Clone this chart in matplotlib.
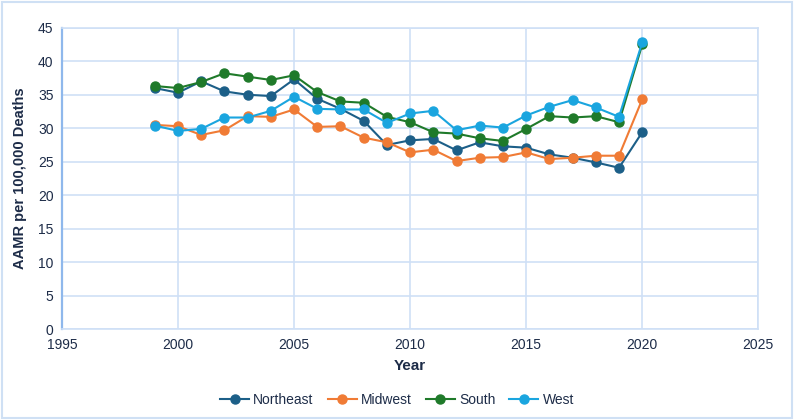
import matplotlib
matplotlib.use("Agg")
import matplotlib.pyplot as plt
from matplotlib.patches import Rectangle

years = list(range(1999, 2021))
northeast = [36.0, 35.3, 37.0, 35.5, 35.0, 34.8, 37.3, 34.4, 32.9, 31.1, 27.5, 28.2, 28.4, 26.7, 27.9, 27.3, 27.1, 26.1, 25.6, 24.9, 24.1, 29.4]
midwest = [30.5, 30.3, 29.0, 29.7, 31.8, 31.7, 32.8, 30.2, 30.3, 28.6, 27.9, 26.4, 26.8, 25.1, 25.6, 25.7, 26.4, 25.4, 25.6, 25.9, 25.9, 34.3]
south = [36.3, 36.0, 36.9, 38.2, 37.7, 37.2, 37.9, 35.4, 34.0, 33.8, 31.7, 30.9, 29.4, 29.2, 28.5, 28.1, 29.9, 31.8, 31.6, 31.8, 30.9, 42.5]
west = [30.4, 29.6, 29.9, 31.6, 31.6, 32.6, 34.7, 32.9, 32.8, 32.8, 30.8, 32.2, 32.6, 29.7, 30.4, 30.1, 31.9, 33.2, 34.2, 33.1, 31.7, 42.8]

series = [("Northeast", northeast, "#1c5f88"),
          ("Midwest", midwest, "#f07b35"),
          ("South", south, "#1f7a2a"),
          ("West", west, "#1aa5df")]

x_ticks = [1995, 2000, 2005, 2010, 2015, 2020, 2025]
y_ticks = [0, 5, 10, 15, 20, 25, 30, 35, 40, 45]

plt.rcParams['font.family'] = ['Liberation Sans', 'DejaVu Sans']
fig = plt.figure(figsize=(7.94, 4.20), dpi=100)
fig.patch.set_facecolor("white")
fig.patches.append(Rectangle((0.003, 0.004), 0.994, 0.991, transform=fig.transFigure,
                             fill=False, edgecolor="#cfe0f4", linewidth=1.5))

ax = fig.add_axes([0.078, 0.216, 0.877, 0.718])
handles = []
for name, vals, col in series:
    h, = ax.plot(years, vals, color=col, marker="o", markersize=6.5, linewidth=1.5, label=name)
    handles.append(h)

ax.set_xlim(1995, 2025)
ax.set_ylim(0, 45)
ax.set_xticks(x_ticks)
ax.set_yticks(y_ticks)
ax.grid(True, color="#cfe0f6", linewidth=1.2)
ax.set_axisbelow(True)
for s in ["top", "right", "bottom"]:
    ax.spines[s].set_color("#cfe0f6")
    ax.spines[s].set_linewidth(1.2)
ax.spines["left"].set_color("#8fb8ec")
ax.spines["left"].set_linewidth(1.6)
ax.tick_params(axis="both", length=0, labelsize=10, colors="#1d2c48", pad=6)
ax.set_xlabel("Year", fontsize=11, fontweight="bold", color="#1d2c48", labelpad=5)
ax.set_ylabel("AAMR per 100,000 Deaths", fontsize=10.5, fontweight="bold", color="#1d2c48", labelpad=8)

leg = fig.legend(handles=handles, loc="center", bbox_to_anchor=(0.5, 0.048), ncol=4, frameon=False,
                 fontsize=10, handlelength=2.1, columnspacing=1.0, handletextpad=0.3)
for t in leg.get_texts():
    t.set_color("#1d2c48")

fig.savefig("out.png", dpi=100)
